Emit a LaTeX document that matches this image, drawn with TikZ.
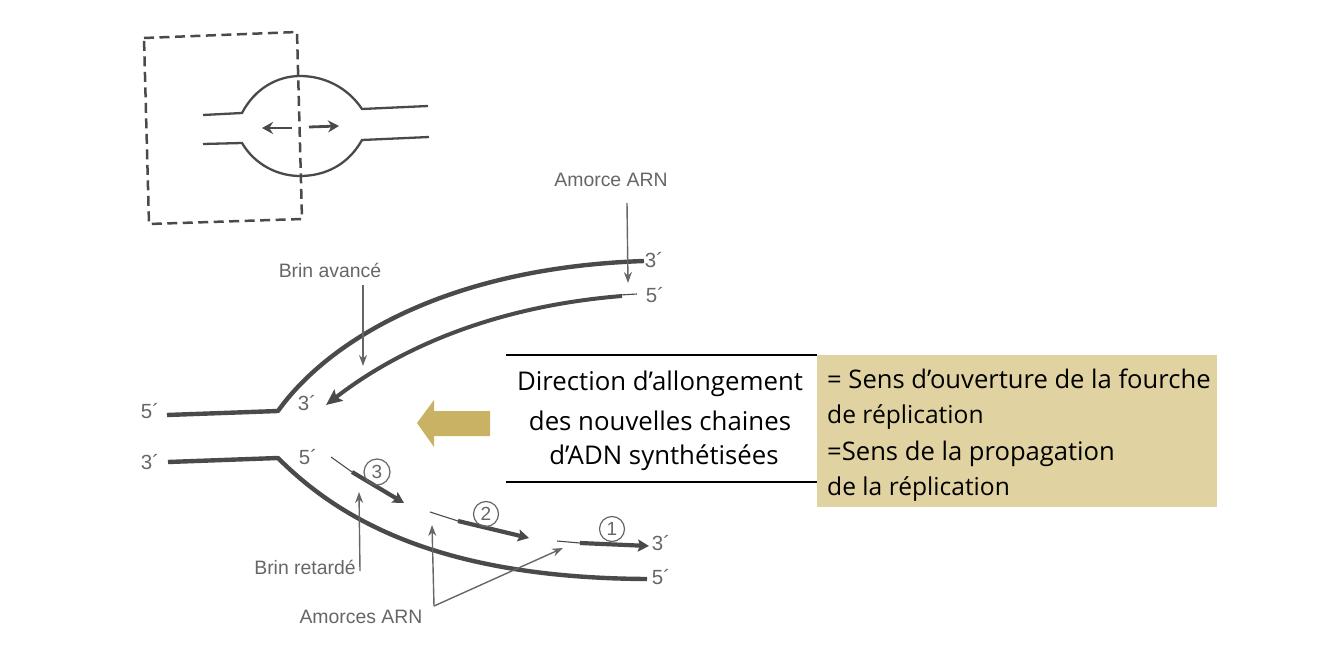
\documentclass[tikz,border=0pt]{standalone}
\usepackage{fontspec}
\setmainfont{Liberation Sans}
\newfontfamily\slidefont{Open Sans}
\usetikzlibrary{arrows.meta}
\definecolor{ink}{HTML}{4A4A4A}
\definecolor{lab}{HTML}{666666}
\definecolor{gold}{HTML}{C9B263}
\definecolor{beige}{HTML}{E0D3A1}
\tikzset{
 x=1pt,y=-1pt,
 strand/.style={draw=ink,line width=4.4pt,line join=round},
 primer/.style={draw=ink,line width=1.1pt},
 pointer/.style={draw=lab,line width=1.4pt,-{Stealth[length=11pt,width=8pt]}},
 growth/.style={draw=ink,line width=4.2pt,-{Stealth[length=11pt,width=12pt,inset=2pt]}},
 lbl/.style={text=lab,font=\fontsize{19.4}{22}\selectfont,inner sep=0pt},
 endlbl/.style={text=lab,font=\fontsize{20.5}{22}\selectfont,inner sep=0pt},
 circ/.style={draw=lab,line width=1.2pt,circle,minimum size=25pt,inner sep=0pt,text=lab,font=\fontsize{19}{20}\selectfont},
 slide/.style={text=black,font=\slidefont\fontsize{25.8}{30}\selectfont,inner sep=0pt},
 note/.style={text=black,font=\slidefont\fontsize{25.6}{30}\selectfont,inner sep=0pt,anchor=base west},
 note small/.style={note,font=\slidefont\fontsize{24.6}{30}\selectfont},
}
\begin{document}
\begin{tikzpicture}
\useasboundingbox (0,0) rectangle (1344,671);
% small bubble
\coordinate (bTL) at (144,38); \coordinate (bTR) at (297,32);
\coordinate (bBR) at (302,219); \coordinate (bBL) at (149,224);
\draw[draw=ink,line width=2.5pt,dash pattern=on 10pt off 5.5pt,line join=miter] (bTL)--(bTR)--(bBR)--(bBL)--cycle;
\draw[draw=ink,line width=2.3pt] (203,115)--(242,113) .. controls (255,88) and (278,76) .. (300,76)
  .. controls (325,76) and (348,88) .. (362,109) -- (428,106);
\draw[draw=ink,line width=2.3pt] (203,144)--(242,143) .. controls (255,165) and (278,176) .. (300,176)
  .. controls (325,176) and (348,165) .. (362,140) -- (429,137);
\coordinate (aL0) at (292,128); \coordinate (aL1) at (262,128);
\coordinate (aR0) at (309,127); \coordinate (aR1) at (339,126);
\draw[draw=ink,line width=2.8pt,-{Stealth[length=11pt,width=12pt]}] (aL0)--(aL1);
\draw[draw=ink,line width=2.8pt,-{Stealth[length=11pt,width=12pt]}] (aR0)--(aR1);
% main fork
\draw[strand] (167,415)--(278,411) .. controls (325,345) and (440,268) .. (644,261);
\draw[primer] (620,295)--(637,294);
\coordinate (lead0) at (622,296); \coordinate (lead1) at (326,405);
\draw[draw=ink,line width=4pt,-{Stealth[length=16pt,width=14pt,inset=3pt]}] (lead0) .. controls (510,305) and (410,340) .. (lead1);
\draw[strand] (168,462)--(278,458) .. controls (340,520) and (440,578) .. (647,579);
% lagging fragments
\coordinate (f3a) at (331,457); \coordinate (f3b) at (352,472); \coordinate (f3c) at (404,503);
\coordinate (f2a) at (430,512); \coordinate (f2b) at (458,521); \coordinate (f2c) at (529,538);
\coordinate (f1a) at (557,541); \coordinate (f1b) at (580,543); \coordinate (f1c) at (649,546);
\draw[primer] (f3a)--(f3b); \draw[growth] (f3b)--(f3c);
\draw[primer] (f2a)--(f2b); \draw[growth] (f2b)--(f2c);
\draw[primer] (f1a)--(f1b); \draw[growth] (f1b)--(f1c);
\node[circ,minimum size=26pt] (c3) at (377,472) {3};
\node[circ] (c2) at (486,514) {2};
\node[circ] (c1) at (612,529) {1};
% labels and pointers
\node[lbl] (avance) at (330,270) {Brin avancé};
\node[lbl] (retarde) at (305,567) {Brin retardé};
\node[lbl] (amorces) at (361,617) {Amorces ARN};
\node[lbl] (amorce) at (611,180) {Amorce ARN};
\coordinate (pav0) at (363,285); \coordinate (pav1) at (363,366);
\coordinate (pre0) at (360,571); \coordinate (pre1) at (359,492);
\coordinate (pam0) at (434,606); \coordinate (pam1) at (432,525); \coordinate (pam2) at (563,548);
\coordinate (par0) at (627,203); \coordinate (par1) at (628,283);
\draw[pointer] (pav0)--(pav1);
\draw[pointer] (pre0)--(pre1);
\draw[pointer] (pam0)--(pam1);
\draw[pointer] (pam0)--(pam2);
\draw[pointer] (par0)--(par1);
\node[endlbl] (e1) at (654,260) {3´};
\node[endlbl] (e2) at (655,295) {5´};
\node[endlbl] (e3) at (150,411) {5´};
\node[endlbl] (e4) at (150,462) {3´};
\node[endlbl] (e5) at (307,403) {3´};
\node[endlbl] (e6) at (308,457) {5´};
\node[endlbl] (e7) at (661,543) {3´};
\node[endlbl] (e8) at (661,577) {5´};
% gold arrow
\fill[gold] (490,411)--(434,411)--(434,400)--(417,423)--(434,447)--(434,436)--(490,436)--cycle;
% central text
\draw[draw=black,line width=1.4pt] (506,355)--(817,355);
\draw[draw=black,line width=1.4pt] (506,482)--(817,482);
\node[slide] (t1) at (660,384) {Direction d’allongement};
\node[slide] (t2) at (660,421) {des nouvelles chaines};
\node[slide] (t3) at (664,458) {d’ADN synthétisées};
% beige note
\fill[beige] (817,355) rectangle (1217,507);
\node[note] (n1) at (827,388) {= Sens d’ouverture de la fourche};
\node[note small] (n2) at (827,423) {de réplication};
\node[note] (n3) at (827,460) {=Sens de la propagation};
\node[note small] (n4) at (827,495) {de la réplication};
\end{tikzpicture}
\end{document}
